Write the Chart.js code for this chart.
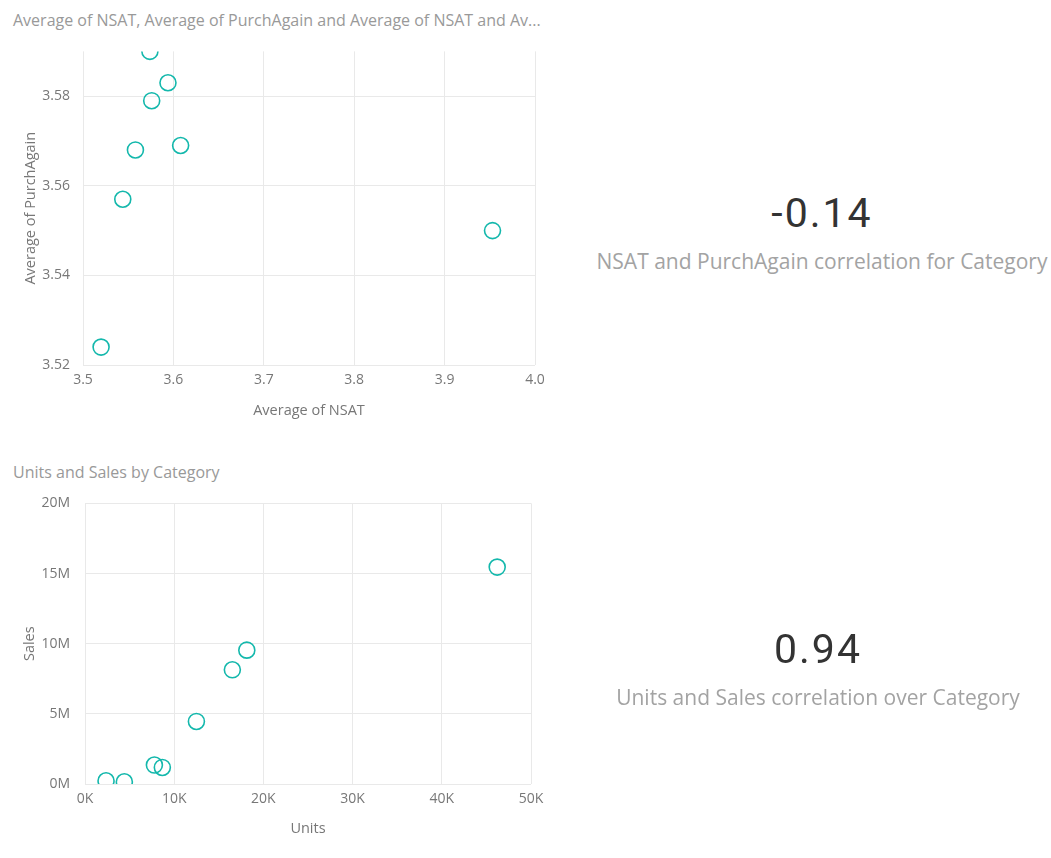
<!DOCTYPE html>
<html>
<head>
<meta charset="utf-8">
<script src="https://cdn.jsdelivr.net/npm/chart.js@4.4.1/dist/chart.umd.min.js"></script>
<style>
  html, body { margin: 0; padding: 0; background: #ffffff; }
  body { width: 1051px; height: 858px; position: relative; overflow: hidden; font-family: "Open Sans", "Noto Sans", sans-serif; }
  .title { position: absolute; left: 13px; font-size: 16px; color: #999999; white-space: nowrap; line-height: 20px; }
  .wrap { position: absolute; left: 0; }
  .kpi { position: absolute; text-align: center; white-space: nowrap; }
  .kpi .num { font-family: Roboto, "DejaVu Sans Condensed", sans-serif; font-size: 41px; color: #333333; line-height: 48px; letter-spacing: 2px; }
  .kpi .lbl { font-family: "Open Sans", "Noto Sans", sans-serif; font-size: 21px; color: #a3a3a3; line-height: 28px; margin-top: 10px; }
</style>
</head>
<body>
<div class="title" id="title1" style="top:10px;"></div>
<div class="wrap" style="top:30px; width:560px; height:392px;"><canvas id="c1" width="560" height="392"></canvas></div>
<div class="title" id="title2" style="top:462px;"></div>
<div class="wrap" style="top:480px; width:560px; height:360px;"><canvas id="c2" width="560" height="360"></canvas></div>

<div class="kpi" style="left:560px; width:524px; top:189px;">
  <div class="num" id="kpi1num"></div>
  <div class="lbl" id="kpi1lbl"></div>
</div>
<div class="kpi" style="left:556px; width:524px; top:625px;">
  <div class="num" id="kpi2num"></div>
  <div class="lbl" id="kpi2lbl"></div>
</div>

<script>
// ---- Data ----
const nsat       = [3.574, 3.594, 3.576, 3.558, 3.608, 3.544, 3.520, 3.953];
const purchAgain = [3.590, 3.583, 3.579, 3.568, 3.569, 3.557, 3.524, 3.550];
const units      = [2360, 4410, 7780, 8670, 12490, 16520, 18140, 46210];
const sales      = [230000, 160000, 1350000, 1180000, 4460000, 8140000, 9540000, 15460000];
const nsatTicks  = [3.5, 3.6, 3.7, 3.8, 3.9, 4.0];
const purchTicks = [3.52, 3.54, 3.56, 3.58];
const unitsTicks = [0, 10000, 20000, 30000, 40000, 50000];
const salesTicks = [0, 5000000, 10000000, 15000000, 20000000];
const chartTitles = ["Average of NSAT, Average of PurchAgain and Average of NSAT and Av...", "Units and Sales by Category"];
const kpiValues  = ["-0.14", "0.94"];
const kpiLabels  = ["NSAT and PurchAgain correlation for Category", "Units and Sales correlation over Category"];

document.getElementById('title1').textContent = chartTitles[0];
document.getElementById('title2').textContent = chartTitles[1];
document.getElementById('kpi1num').textContent = kpiValues[0];
document.getElementById('kpi1lbl').textContent = kpiLabels[0];
document.getElementById('kpi2num').textContent = kpiValues[1];
document.getElementById('kpi2lbl').textContent = kpiLabels[1];

const TEAL = '#14b8ac';
const GRID = '#e9e9e9';
const TICK = '#777777';
const FONT = '"Open Sans", "Noto Sans", sans-serif';

function pts(xs, ys) { return xs.map((x, i) => ({ x: x, y: ys[i] })); }

function makeScatter(id, xs, ys, cfg) {
  return new Chart(document.getElementById(id), {
    type: 'scatter',
    data: {
      datasets: [{
        data: pts(xs, ys),
        pointStyle: 'circle',
        pointRadius: 8,
        pointHoverRadius: 8,
        pointBorderWidth: 1.6,
        pointBackgroundColor: 'rgba(255,255,255,0)',
        pointBorderColor: TEAL,
        clip: 0
      }]
    },
    options: {
      responsive: false,
      animation: false,
      events: [],
      layout: { padding: cfg.padding },
      plugins: { legend: { display: false }, tooltip: { enabled: false }, title: { display: false } },
      scales: {
        x: {
          type: 'linear',
          min: cfg.xTicks[0], max: cfg.xTicks[cfg.xTicks.length - 1],
          afterBuildTicks: (s) => { s.ticks = cfg.xTicks.map(v => ({ value: v })); },
          afterFit: (s) => { s.height = cfg.xAxisH; },
          grid: { color: GRID, lineWidth: 1, drawTicks: false },
          border: { display: false },
          ticks: { color: TICK, font: { family: FONT, size: 14 }, padding: 7, callback: cfg.xFmt, maxRotation: 0 },
          title: { display: true, text: cfg.xTitle, color: TICK, font: { family: FONT, size: 14.5 }, padding: { top: 0, bottom: 2 } }
        },
        y: {
          type: 'linear',
          min: cfg.yMin, max: cfg.yMax,
          afterBuildTicks: (s) => { s.ticks = cfg.yTicks.map(v => ({ value: v })); },
          afterFit: (s) => { s.width = cfg.yAxisW; },
          grid: { color: GRID, lineWidth: 1, drawTicks: false },
          border: { display: false },
          ticks: { color: TICK, font: { family: FONT, size: 14 }, padding: cfg.yTickPad, callback: cfg.yFmt },
          title: { display: true, text: cfg.yTitle, color: TICK, font: { family: FONT, size: 14.5 }, padding: { top: cfg.yTitlePad, bottom: 0 } }
        }
      }
    }
  });
}

makeScatter('c1', nsat, purchAgain, {
  padding: { left: 0, right: 25, top: 10, bottom: 0 },
  xTicks: nsatTicks, yTicks: purchTicks, yMin: 3.52, yMax: 3.59,
  xAxisH: 57, yAxisW: 83, yTickPad: 13, yTitlePad: 22,
  xTitle: 'Average of NSAT', yTitle: 'Average of PurchAgain',
  xFmt: (v) => Number(v).toFixed(1),
  yFmt: (v) => Number(v).toFixed(2)
});

makeScatter('c2', units, sales, {
  padding: { left: 0, right: 29, top: 12, bottom: 0 },
  xTicks: unitsTicks, yTicks: salesTicks, yMin: 0, yMax: 20000000,
  xAxisH: 56, yAxisW: 85, yTickPad: 15, yTitlePad: 21,
  xTitle: 'Units', yTitle: 'Sales',
  xFmt: (v) => Math.round(v / 1000) + 'K',
  yFmt: (v) => Math.round(v / 1000000) + 'M'
});
</script>
</body>
</html>
